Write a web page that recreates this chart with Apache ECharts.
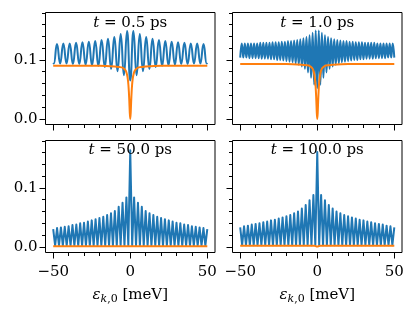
<!DOCTYPE html>
<html><head><meta charset="utf-8">
<script src="https://cdn.jsdelivr.net/npm/echarts@6/dist/echarts.min.js"></script>
<style>html,body{margin:0;padding:0;background:#fff}#c{width:415px;height:318px}</style>
</head><body><div id="c"></div>
<script>
// ---------- tick values ----------
const xTicksMajor = [-50, 0, 50];
const xTicksMinor = [-40, -30, -20, -10, 10, 20, 30, 40];
const yTicksMajor = [0, 0.1];
const yTicksMinor = [0.02, 0.04, 0.06, 0.08, 0.12, 0.14, 0.16, 0.18];
const panelTimes = ['0.5', '1.0', '50.0', '100.0'];

// ---------- t = 0.5 ps ----------
const tlBlueX = [-50, -49.63, -47.56, -45.5, -43.43, -41.36, -39.29, -37.22, -35.16, -33.09, -31.02, -28.95, -26.88, -24.82, -22.75, -20.68, -18.61, -16.54, -14.48, -12.41, -10.34, -8.27, -6.2, -4.14, -2.07, 0, 2.07, 4.14, 6.2, 8.27, 10.34, 12.41, 14.48, 16.54, 18.61, 20.68, 22.75, 24.82, 26.88, 28.95, 31.02, 33.09, 35.16, 37.22, 39.29, 41.36, 43.43, 45.5, 47.56, 49.63, 50];
const tlBlueY = [0.095, 0.094, 0.127, 0.094, 0.128, 0.094, 0.128, 0.093, 0.129, 0.093, 0.130, 0.092, 0.131, 0.091, 0.132, 0.090, 0.134, 0.088, 0.136, 0.085, 0.139, 0.081, 0.144, 0.074, 0.149, 0.065, 0.149, 0.074, 0.144, 0.081, 0.139, 0.085, 0.136, 0.088, 0.134, 0.090, 0.132, 0.091, 0.131, 0.092, 0.130, 0.093, 0.129, 0.093, 0.128, 0.094, 0.128, 0.094, 0.127, 0.094, 0.095];
const dipX = [-50, -20, -10, -7, -5, -4, -3, -2.5, -2, -1.6, -1.2, -0.9, -0.6, -0.3, 0, 0.3, 0.6, 0.9, 1.2, 1.6, 2, 2.5, 3, 4, 5, 7, 10, 20, 50];
const tlOrangeY = [0.090, 0.090, 0.089, 0.088, 0.087, 0.085, 0.082, 0.079, 0.074, 0.068, 0.058, 0.046, 0.030, 0.010, 0.0, 0.010, 0.030, 0.046, 0.058, 0.068, 0.074, 0.079, 0.082, 0.085, 0.087, 0.088, 0.089, 0.090, 0.090];

// ---------- t = 1.0 ps ----------
const trBlueX = [-50, -49, -48, -47, -46, -45, -44, -43, -42, -41, -40, -39, -38, -37, -36, -35, -34, -33, -32, -31, -30, -29, -28, -27, -26, -25, -24, -23, -22, -21, -20, -19, -18, -17, -16, -15, -14, -13, -12, -11, -10, -9, -8, -7, -6, -5, -4, -3, -2, -1, 0, 1, 2, 3, 4, 5, 6, 7, 8, 9, 10, 11, 12, 13, 14, 15, 16, 17, 18, 19, 20, 21, 22, 23, 24, 25, 26, 27, 28, 29, 30, 31, 32, 33, 34, 35, 36, 37, 38, 39, 40, 41, 42, 43, 44, 45, 46, 47, 48, 49, 50];
const trBlueY = [0.104, 0.128, 0.104, 0.128, 0.104, 0.128, 0.103, 0.128, 0.103, 0.128, 0.103, 0.128, 0.103, 0.129, 0.102, 0.129, 0.102, 0.129, 0.102, 0.129, 0.101, 0.130, 0.101, 0.130, 0.100, 0.130, 0.100, 0.131, 0.099, 0.131, 0.098, 0.132, 0.097, 0.132, 0.096, 0.133, 0.094, 0.134, 0.092, 0.135, 0.089, 0.137, 0.085, 0.139, 0.079, 0.142, 0.070, 0.146, 0.058, 0.150,
  0.052,
  0.150, 0.058, 0.146, 0.070, 0.142, 0.079, 0.139, 0.085, 0.137, 0.089, 0.135, 0.092, 0.134, 0.094, 0.133, 0.096, 0.132, 0.097, 0.132, 0.098, 0.131, 0.099, 0.131, 0.100, 0.130, 0.100, 0.130, 0.101, 0.130, 0.101, 0.129, 0.102, 0.129, 0.102, 0.129, 0.102, 0.129, 0.103, 0.128, 0.103, 0.128, 0.103, 0.128, 0.103, 0.128, 0.104, 0.128, 0.104, 0.128, 0.104];
const trOrangeY = [0.093, 0.093, 0.092, 0.091, 0.090, 0.088, 0.085, 0.082, 0.077, 0.070, 0.060, 0.048, 0.031, 0.010, 0.0, 0.010, 0.031, 0.048, 0.060, 0.070, 0.077, 0.082, 0.085, 0.088, 0.090, 0.091, 0.092, 0.093, 0.093];

// ---------- t = 50 ps and t = 100 ps ----------
const bottomX = [-50, -48.75, -47.5, -46.25, -45, -43.75, -42.5, -41.25, -40, -38.75, -37.5, -36.25, -35, -33.75, -32.5, -31.25, -30, -28.75, -27.5, -26.25, -25, -23.75, -22.5, -21.25, -20, -18.75, -17.5, -16.25, -15, -13.75, -12.5, -11.25, -10, -8.75, -7.5, -6.25, -5, -3.75, -2.5, -1.25, 0, 1.25, 2.5, 3.75, 5, 6.25, 7.5, 8.75, 10, 11.25, 12.5, 13.75, 15, 16.25, 17.5, 18.75, 20, 21.25, 22.5, 23.75, 25, 26.25, 27.5, 28.75, 30, 31.25, 32.5, 33.75, 35, 36.25, 37.5, 38.75, 40, 41.25, 42.5, 43.75, 45, 46.25, 47.5, 48.75, 50];
const blBlueY = [0.030, 0.002, 0.032, 0.002, 0.033, 0.002, 0.034, 0.002, 0.035, 0.002, 0.037, 0.002, 0.038, 0.002, 0.040, 0.002, 0.041, 0.002, 0.043, 0.002, 0.045, 0.002, 0.047, 0.002, 0.049, 0.002, 0.051, 0.002, 0.054, 0.002, 0.057, 0.002, 0.061, 0.002, 0.068, 0.002, 0.075, 0.002, 0.084, 0.002,
  0.164,
  0.002, 0.084, 0.002, 0.075, 0.002, 0.068, 0.002, 0.061, 0.002, 0.057, 0.002, 0.054, 0.002, 0.051, 0.002, 0.049, 0.002, 0.047, 0.002, 0.045, 0.002, 0.043, 0.002, 0.041, 0.002, 0.040, 0.002, 0.038, 0.002, 0.037, 0.002, 0.035, 0.002, 0.034, 0.002, 0.033, 0.002, 0.032, 0.002, 0.030];
const brBlueY = [0.033, 0.003, 0.035, 0.003, 0.036, 0.003, 0.038, 0.003, 0.039, 0.003, 0.040, 0.003, 0.042, 0.003, 0.043, 0.003, 0.045, 0.003, 0.046, 0.003, 0.048, 0.003, 0.050, 0.003, 0.052, 0.003, 0.054, 0.003, 0.057, 0.003, 0.060, 0.003, 0.065, 0.003, 0.071, 0.003, 0.079, 0.003, 0.088, 0.003,
  0.161,
  0.003, 0.088, 0.003, 0.079, 0.003, 0.071, 0.003, 0.065, 0.003, 0.060, 0.003, 0.057, 0.003, 0.054, 0.003, 0.052, 0.003, 0.050, 0.003, 0.048, 0.003, 0.046, 0.003, 0.045, 0.003, 0.043, 0.003, 0.042, 0.003, 0.040, 0.003, 0.039, 0.003, 0.038, 0.003, 0.036, 0.003, 0.035, 0.003, 0.033];
const blOrangeX = [-50, 50];
const blOrangeY = [0.001, 0.001];
const brOrangeX = [-50, -2, 0, 2, 50];
const brOrangeY = [0.002, 0.002, 0.0005, 0.002, 0.002];

// ---------- build ----------
const FONT = 'DejaVu Serif';
const BLUE = '#1f77b4', ORANGE = '#ff7f0e';
const pairs = (xs, ys) => xs.map((x, i) => [x, ys[i]]);
const panels = [
  { blue: pairs(tlBlueX, tlBlueY), orange: pairs(dipX, tlOrangeY), blueSmooth: 0.5 },
  { blue: pairs(trBlueX, trBlueY), orange: pairs(dipX, trOrangeY), blueSmooth: 0.5 },
  { blue: pairs(bottomX, blBlueY), orange: pairs(blOrangeX, blOrangeY), blueSmooth: false },
  { blue: pairs(bottomX, brBlueY), orange: pairs(brOrangeX, brOrangeY), blueSmooth: false }
];
const gridPos = [
  { left: 45.5, top: 12.5 }, { left: 232.5, top: 12.5 },
  { left: 45.5, top: 140.5 }, { left: 232.5, top: 140.5 }
];
const GW = 169.5, GH = 112;
const fmtX = v => (v < 0 ? '\u2212' + Math.abs(v) : String(v));
const fmtY = v => v.toFixed(1);
const noLine = { show: false, onZero: false };

const grid = [], xAxis = [], yAxis = [], series = [], title = [];
gridPos.forEach((g, i) => {
  grid.push({ left: g.left, top: g.top, width: GW, height: GH, show: true,
    borderColor: '#000', borderWidth: 1, backgroundColor: 'transparent' });
  const bottomRow = i >= 2, leftCol = i % 2 === 0;
  xAxis.push({
    gridIndex: i, type: 'value', min: -55, max: 55, position: 'bottom',
    axisLine: noLine, splitLine: { show: false },
    axisTick: { show: true, inside: false, customValues: xTicksMajor, length: 6, lineStyle: { color: '#000', width: 1 } },
    axisLabel: { show: bottomRow, customValues: xTicksMajor, formatter: fmtX, margin: 12,
      color: '#000', fontFamily: FONT, fontSize: 15 },
    name: bottomRow ? '{e|\u03b5}{k|k}{z|,0}{n| [meV]}' : '',
    nameLocation: 'middle', nameGap: 35,
    nameTextStyle: {
      color: '#000', fontFamily: FONT, fontSize: 15,
      rich: {
        e: { fontFamily: FONT, fontSize: 15, fontStyle: 'italic', lineHeight: 18, verticalAlign: 'top', color: '#000' },
        k: { fontFamily: FONT, fontSize: 11, fontStyle: 'italic', lineHeight: 13, padding: [6, 0, 0, 0], verticalAlign: 'top', color: '#000' },
        z: { fontFamily: FONT, fontSize: 11, lineHeight: 13, padding: [6, 0, 0, 0], verticalAlign: 'top', color: '#000' },
        n: { fontFamily: FONT, fontSize: 15, lineHeight: 18, verticalAlign: 'top', color: '#000' }
      }
    }
  });
  xAxis.push({
    gridIndex: i, type: 'value', min: -55, max: 55, position: 'bottom', offset: 0,
    axisLine: noLine, splitLine: { show: false }, axisLabel: { show: false },
    axisTick: { show: true, inside: false, customValues: xTicksMinor, length: 3.5, lineStyle: { color: '#000', width: 1 } }
  });
  yAxis.push({
    gridIndex: i, type: 'value', min: -0.0095, max: 0.1805, position: 'left',
    axisLine: noLine, splitLine: { show: false },
    axisTick: { show: true, inside: false, customValues: yTicksMajor, length: 6, lineStyle: { color: '#000', width: 1 } },
    axisLabel: { show: leftCol, customValues: yTicksMajor, formatter: fmtY, margin: 8,
      color: '#000', fontFamily: FONT, fontSize: 15 }
  });
  yAxis.push({
    gridIndex: i, type: 'value', min: -0.0095, max: 0.1805, position: 'left', offset: 0,
    axisLine: noLine, splitLine: { show: false }, axisLabel: { show: false },
    axisTick: { show: true, inside: false, customValues: yTicksMinor, length: 3.5, lineStyle: { color: '#000', width: 1 } }
  });
  const p = panels[i];
  series.push({
    type: 'line', xAxisIndex: 2 * i, yAxisIndex: 2 * i, data: p.blue, showSymbol: false,
    smooth: p.blueSmooth, lineStyle: { color: BLUE, width: 2, join: 'round' }, itemStyle: { color: BLUE }, z: 2
  });
  series.push({
    type: 'line', xAxisIndex: 2 * i, yAxisIndex: 2 * i, data: p.orange, showSymbol: false,
    smooth: 0.3, lineStyle: { color: ORANGE, width: 2, join: 'round' }, itemStyle: { color: ORANGE }, z: 3
  });
  title.push({
    text: '{i|t} = ' + panelTimes[i] + ' ps',
    left: g.left + GW / 2, top: g.top + (bottomRow ? 2 : 3.5), textAlign: 'center', padding: 0,
    textStyle: { fontFamily: FONT, fontSize: 15, fontWeight: 'normal', color: '#000',
      rich: { i: { fontFamily: FONT, fontSize: 15, fontStyle: 'italic', color: '#000' } } }
  });
});

const chart = echarts.init(document.getElementById('c'), null, { renderer: 'canvas' });
chart.setOption({ animation: false, backgroundColor: '#fff', title, grid, xAxis, yAxis, series });
</script>
</body></html>
